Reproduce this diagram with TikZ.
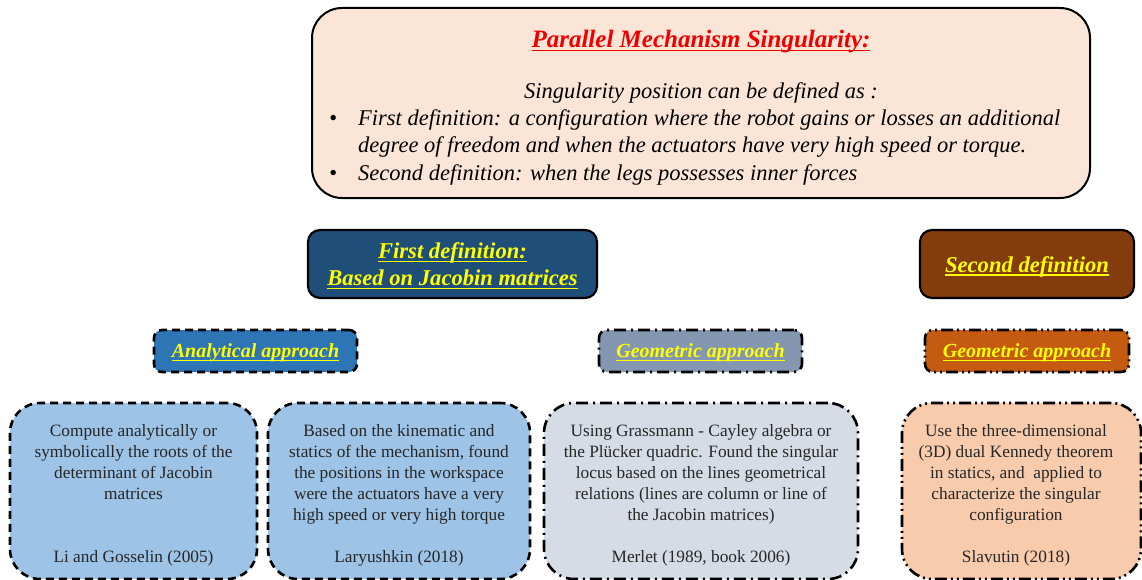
\documentclass[tikz,border=0pt]{standalone}
\usepackage{fontspec}
\setmainfont{Liberation Serif}
\newfontfamily\tnr{Liberation Serif}
\definecolor{peach}{HTML}{FBE5D6}
\definecolor{darkblue}{HTML}{1F4E79}
\definecolor{brownbox}{HTML}{843C0C}
\definecolor{anablue}{HTML}{2E75B6}
\definecolor{geogrey}{HTML}{8497B0}
\definecolor{geoorange}{HTML}{C55A11}
\definecolor{lightblue}{HTML}{9DC3E6}
\definecolor{lightgrey}{HTML}{D6DCE5}
\definecolor{lightorange}{HTML}{F8CBAD}
\definecolor{yel}{HTML}{FFFF00}
\definecolor{titlered}{HTML}{EE0000}
\newcommand\myul[1]{\setbox0\hbox{#1}\rlap{\rule[-3.5pt]{\wd0}{1.6pt}}\box0}
\tikzset{
  box/.style={draw=black, line width=2pt, rounded corners=#1, inner sep=0pt},
  defbox/.style={box=12pt, line width=2.2pt},
  appbox/.style={box=8pt, line width=2.6pt},
  infobox/.style={box=30pt, line width=2.6pt},
  dashA/.style={dash pattern=on 8pt off 5pt},
  dashB/.style={dash pattern=on 12pt off 5pt on 2pt off 5pt},
  dashC/.style={dash pattern=on 12pt off 4pt on 2pt off 4pt on 2pt off 4pt},
  deftext/.style={text=yel, font=\tnr\fontsize{22.6}{27}\selectfont\bfseries\itshape, align=center},
  apptext/.style={text=yel, font=\tnr\fontsize{20}{22}\selectfont\bfseries\itshape, align=center},
  bodytext/.style={font=\tnr\fontsize{17.3}{21}\selectfont, align=center, inner sep=0pt, text=black!85},
  toptext/.style={font=\tnr\fontsize{22.5}{27}\selectfont\itshape, inner sep=0pt, anchor=base west},
}
\begin{document}
\begin{tikzpicture}[x=1pt,y=-1pt]
\useasboundingbox (0,0) rectangle (1142,580);
% top box
\node[box=30pt, fill=peach, minimum width=778pt, minimum height=190pt] (top) at (701,103) {};
\node[text=titlered, font=\tnr\fontsize{25}{27}\selectfont\bfseries\itshape, inner sep=0pt, anchor=base] (title) at (701,48) {\myul{Parallel Mechanism Singularity:}};
\node[toptext, anchor=base] (intro) at (701,99) {Singularity position can be defined as :};
\node[toptext] (b1) at (329,126) {•};
\node[toptext] (l1) at (358,126) {First definition: a configuration where the robot gains or losses an additional};
\node[toptext] (l2) at (358,153) {degree of freedom and when the actuators have very high speed or torque.};
\node[toptext] (b2) at (329,180) {•};
\node[toptext] (l3) at (358,180) {Second definition: when the legs possesses inner forces};
% definition boxes
\node[defbox, fill=darkblue, minimum width=289pt, minimum height=68pt] (def1) at (452.5,264) {};
\node[deftext] (def1t) at (452.5,266) {\myul{First definition:}\\\myul{Based on Jacobin matrices}};
\node[defbox, fill=brownbox, minimum width=214pt, minimum height=68pt] (def2) at (1027,264) {};
\node[deftext] (def2t) at (1027,267) {\myul{Second definition}};
% approach boxes
\node[appbox, dashA, fill=anablue, minimum width=203pt, minimum height=42pt] (ana) at (255.5,351) {};
\node[apptext] (anat) at (255.5,353) {\myul{Analytical approach}};
\node[appbox, dashB, fill=geogrey, minimum width=203pt, minimum height=42pt] (geo1) at (700.5,351) {};
\node[apptext] (geo1t) at (700.5,353) {\myul{Geometric approach}};
\node[appbox, dashC, fill=geoorange, minimum width=204pt, minimum height=42pt] (geo2) at (1027,351) {};
\node[apptext] (geo2t) at (1027,353) {\myul{Geometric approach}};
% info boxes
\node[infobox, dashA, fill=lightblue, minimum width=247pt, minimum height=176pt] (i1) at (133.5,491) {};
\node[bodytext, anchor=north] (i1t) at (133.5,424) {Compute analytically or\\symbolically the roots of the\\determinant of Jacobin\\matrices};
\node[bodytext, anchor=base] (i1a) at (133.5,562) {Li and Gosselin (2005)};
\node[infobox, dashA, fill=lightblue, minimum width=262pt, minimum height=176pt] (i2) at (399,491) {};
\node[bodytext, anchor=north] (i2t) at (399,424) {Based on the kinematic and\\statics of the mechanism, found\\the positions in the workspace\\were the actuators have a very\\high speed or very high torque};
\node[bodytext, anchor=base] (i2a) at (399,562) {Laryushkin (2018)};
\node[infobox, dashB, fill=lightgrey, minimum width=314pt, minimum height=176pt] (i3) at (701,491) {};
\node[bodytext, anchor=north] (i3t) at (701,424) {Using Grassmann - Cayley algebra or\\the Plücker quadric. Found the singular\\locus based on the lines geometrical\\relations (lines are column or line of\\the Jacobin matrices)};
\node[bodytext, anchor=base] (i3a) at (701,562) {Merlet (1989, book 2006)};
\node[infobox, dashC, fill=lightorange, minimum width=239pt, minimum height=176pt] (i4) at (1021.5,491) {};
\node[bodytext, anchor=north] (i4t) at (1016,424) {Use the three-dimensional\\(3D) dual Kennedy theorem\\in statics, and\ \ applied to\\characterize the singular\\configuration};
\node[bodytext, anchor=base] (i4a) at (1016,562) {Slavutin (2018)};
\end{tikzpicture}
\end{document}
